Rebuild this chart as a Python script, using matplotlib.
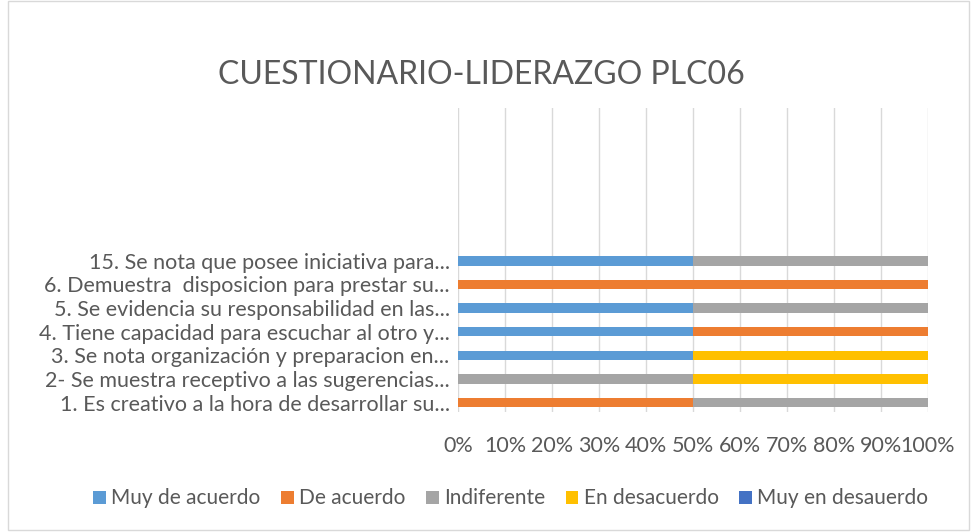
import numpy as np
import matplotlib.pyplot as plt
from matplotlib.patches import Rectangle

# Datos del cuestionario (porcentaje de respuestas por pregunta)
preguntas = [
    "1. Es creativo a la hora de desarrollar su...",
    "2- Se muestra receptivo a las sugerencias...",
    "3. Se nota organización y preparacion en...",
    "4. Tiene capacidad para escuchar al otro y...",
    "5. Se evidencia su responsabilidad en las...",
    "6. Demuestra  disposicion para prestar su...",
    "15. Se nota que posee iniciativa para...",
]
series = ["Muy de acuerdo", "De acuerdo", "Indiferente", "En desacuerdo", "Muy en desauerdo"]
muy_de_acuerdo = [0, 0, 50, 50, 50, 0, 50]
de_acuerdo = [50, 0, 0, 50, 0, 100, 0]
indiferente = [50, 50, 0, 0, 50, 0, 50]
en_desacuerdo = [0, 50, 50, 0, 0, 0, 0]
muy_en_desacuerdo = [0, 0, 0, 0, 0, 0, 0]
colores = ["#5B9BD5", "#ED7D31", "#A5A5A5", "#FFC000", "#4472C4"]
ticks = [0, 10, 20, 30, 40, 50, 60, 70, 80, 90, 100]

plt.rcParams['font.family'] = ['Lato', 'DejaVu Sans']
gris = "#595959"

fig = plt.figure(figsize=(9.71, 5.32), dpi=100)
fig.patches.append(Rectangle((0.008, 0.004), 0.99, 0.994, transform=fig.transFigure,
                             fill=False, edgecolor="#D9D9D9", linewidth=1))
ax = fig.add_axes([0.4717, 0.2256, 0.4840, 0.5714])

y = np.arange(len(preguntas))
izquierda = np.zeros(len(preguntas))
for nombre, valores, color in zip(series,
                                  [muy_de_acuerdo, de_acuerdo, indiferente, en_desacuerdo, muy_en_desacuerdo],
                                  colores):
    v = np.array(valores, dtype=float)
    ax.barh(y, v, left=izquierda, height=0.4, color=color, label=nombre, zorder=3)
    izquierda += v

ax.set_xlim(0, 100)
ax.set_ylim(-0.4, 12.47)
ax.set_xticks(ticks)
ax.set_xticklabels([f"{t}%" for t in ticks], fontsize=15.5, color=gris)
ax.set_yticks(y)
ax.set_yticklabels(preguntas, fontsize=15.5, color=gris)
ax.tick_params(length=0, pad=6)
ax.tick_params(axis='x', pad=17)
ax.grid(axis='x', color="#D9D9D9", linewidth=1, zorder=0)
for s in ax.spines.values():
    s.set_visible(False)

fig.text(0.496, 0.859, "CUESTIONARIO-LIDERAZGO PLC06", ha='center', va='center',
         fontsize=23, color=gris)

leg = fig.legend(loc='center', bbox_to_anchor=(0.526, 0.063), ncol=5, frameon=False,
                 fontsize=15, handlelength=0.6, handleheight=0.6, handletextpad=0.25,
                 columnspacing=1.0)
for t in leg.get_texts():
    t.set_color(gris)

fig.savefig("out.png", dpi=100)
